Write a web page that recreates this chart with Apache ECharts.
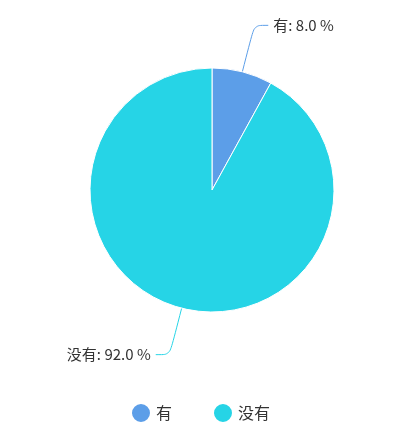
<!DOCTYPE html>
<html><head><meta charset="utf-8">
<script src="https://cdn.jsdelivr.net/npm/echarts@6/dist/echarts.min.js"></script>
<style>html,body{margin:0;padding:0;background:#fff}#c{width:400px;height:437px}</style>
</head><body><div id="c"></div>
<script>
const categories = ['有', '没有'];
const values = [8.0, 92.0];
const colors = ['#5c9ee8', '#26d4e6'];
const chart = echarts.init(document.getElementById('c'));
chart.setOption({
  color: colors,
  legend: {
    bottom: 8, left: 'center', icon: 'circle', itemWidth: 20, itemHeight: 20, itemGap: 40,
    textStyle: {fontSize: 16, color: '#333', fontFamily: 'Noto Sans CJK SC'},
    data: categories
  },
  series: [{
    type: 'pie', center: [212, 190], radius: 122, startAngle: 90,
    data: categories.map((n, i) => ({name: n, value: values[i]})),
    itemStyle: {borderColor: '#fff', borderWidth: 1},
    label: {
      formatter: p => p.name + ': ' + p.value.toFixed(1) + ' %',
      fontSize: 15, color: '#333', fontFamily: 'Noto Sans CJK SC'
    },
    labelLine: {length: 48, length2: 14, smooth: true},
    emphasis: {disabled: true}
  }]
});
</script></body></html>
